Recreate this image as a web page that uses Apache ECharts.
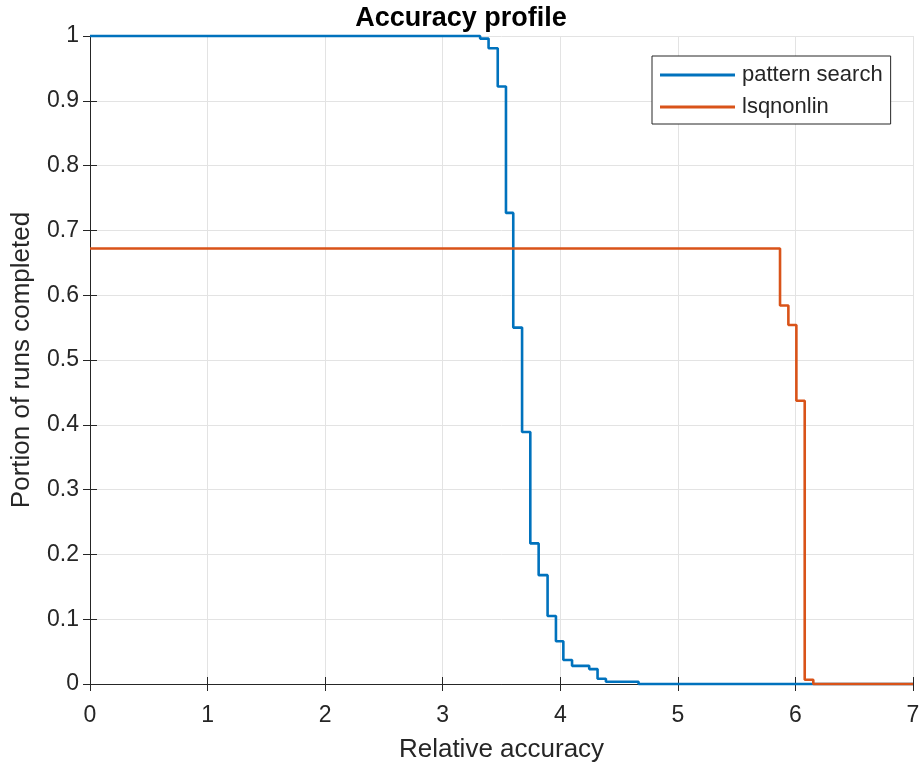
<!DOCTYPE html>
<html>
<head>
<meta charset="utf-8">
<script src="https://cdn.jsdelivr.net/npm/echarts@6/dist/echarts.min.js"></script>
<style>
  html, body { margin: 0; padding: 0; background: #fff; }
  #chart { width: 922px; height: 765px; }
</style>
</head>
<body>
<div id="chart"></div>
<script>
// Accuracy profile: step curves, each point gives the x where the curve drops to its y value.
const patternSearchX = [0, 3.318, 3.39, 3.468, 3.538, 3.60, 3.675, 3.745, 3.816, 3.892, 3.963, 4.026, 4.10, 4.246, 4.317, 4.388, 4.666, 7];
const patternSearchY = [1, 0.996, 0.981, 0.922, 0.727, 0.550, 0.389, 0.217, 0.168, 0.105, 0.066, 0.037, 0.028, 0.023, 0.008, 0.0035, 0, 0];
const lsqnonlinX = [0, 5.869, 5.94, 6.008, 6.079, 6.152, 7];
const lsqnonlinY = [0.672, 0.584, 0.554, 0.437, 0.0066, 0, 0];

const seriesNames = ['pattern search', 'lsqnonlin'];
const xTickLabels = ['0', '1', '2', '3', '4', '5', '6', '7'];
const yTickLabels = ['0', '0.1', '0.2', '0.3', '0.4', '0.5', '0.6', '0.7', '0.8', '0.9', '1'];

const FONT = '"Liberation Sans", Arial, Helvetica, sans-serif';
const INK = '#262626';

function pairs(xs, ys) {
  return xs.map((x, i) => [x, ys[i]]);
}

const chart = echarts.init(document.getElementById('chart'), null, { renderer: 'canvas' });

const boxAxisLine = { show: true, lineStyle: { color: INK, width: 1 } };
const boxTick = { show: true, inside: true, length: 7, lineStyle: { color: INK, width: 1 } };

chart.setOption({
  animation: false,
  backgroundColor: '#ffffff',
  textStyle: { fontFamily: FONT },
  title: {
    text: 'Accuracy profile',
    left: 'center',
    top: 0,
    textStyle: { fontFamily: FONT, fontSize: 27, fontWeight: 'bold', color: '#000' }
  },
  legend: {
    orient: 'vertical',
    left: 652,
    top: 56,
    width: 230,
    padding: [8, 8, 6, 8],
    itemGap: 10,
    itemWidth: 75,
    itemHeight: 3,
    icon: 'rect',
    borderColor: INK,
    borderWidth: 1,
    backgroundColor: '#fff',
    textStyle: { fontFamily: FONT, fontSize: 22, color: INK, padding: [0, 0, 0, 2] },
    data: seriesNames
  },
  grid: { left: 90, right: 9, top: 36, bottom: 81, containLabel: false, outerBoundsMode: 'none' },
  xAxis: [
    {
      type: 'value',
      min: 0, max: 7, interval: 1,
      name: 'Relative accuracy',
      nameLocation: 'middle',
      nameGap: 53,
      nameTextStyle: { fontFamily: FONT, fontSize: 26, color: INK },
      axisLine: boxAxisLine,
      axisTick: boxTick,
      axisLabel: {
        margin: 20, fontFamily: FONT, fontSize: 23, color: INK,
        formatter: v => xTickLabels[Math.round(v)]
      },
      splitLine: { show: true, lineStyle: { color: '#e3e3e3', width: 1 } }
    },
    {
      type: 'value', position: 'top',
      min: 0, max: 7, interval: 1,
      axisLine: boxAxisLine, axisTick: boxTick,
      axisLabel: { show: false }, splitLine: { show: false }
    }
  ],
  yAxis: [
    {
      type: 'value',
      min: 0, max: 1, interval: 0.1,
      name: 'Portion of runs completed',
      nameLocation: 'middle',
      nameRotate: 90,
      nameGap: 55,
      nameTextStyle: { fontFamily: FONT, fontSize: 26, color: INK },
      axisLine: boxAxisLine,
      axisTick: boxTick,
      axisLabel: {
        margin: 11, fontFamily: FONT, fontSize: 23, color: INK,
        formatter: v => yTickLabels[Math.round(v * 10)]
      },
      splitLine: { show: true, lineStyle: { color: '#e3e3e3', width: 1 } }
    },
    {
      type: 'value', position: 'right',
      min: 0, max: 1, interval: 0.1,
      axisLine: boxAxisLine, axisTick: boxTick,
      axisLabel: { show: false }, splitLine: { show: false }
    }
  ],
  series: [
    {
      name: seriesNames[0],
      type: 'line',
      step: 'end',
      showSymbol: false,
      clip: false,
      color: '#0072BD',
      lineStyle: { color: '#0072BD', width: 2.6 },
      data: pairs(patternSearchX, patternSearchY)
    },
    {
      name: seriesNames[1],
      type: 'line',
      step: 'end',
      showSymbol: false,
      clip: false,
      color: '#D95319',
      lineStyle: { color: '#D95319', width: 2.6 },
      data: pairs(lsqnonlinX, lsqnonlinY)
    }
  ]
});
</script>
</body>
</html>
